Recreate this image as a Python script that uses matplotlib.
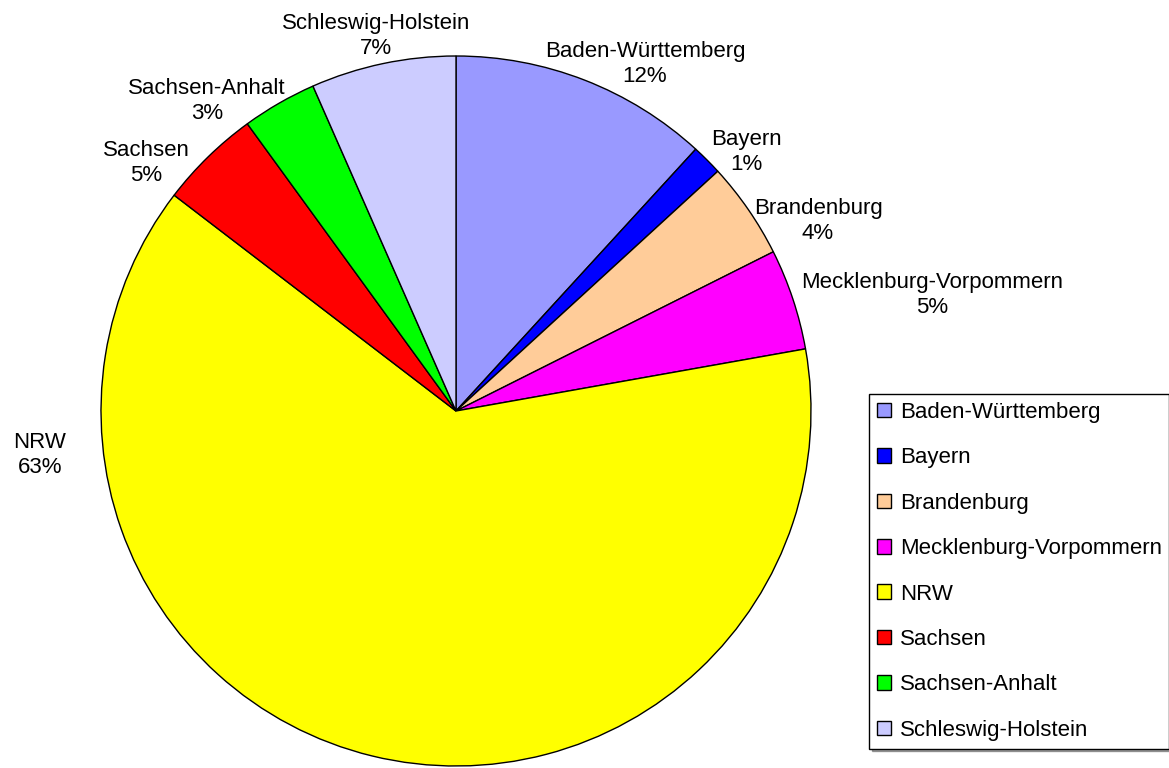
import matplotlib.pyplot as plt

plt.rcParams['font.family'] = ['Liberation Sans', 'DejaVu Sans']

states = ["Baden-Württemberg", "Bayern", "Brandenburg", "Mecklenburg-Vorpommern",
          "NRW", "Sachsen", "Sachsen-Anhalt", "Schleswig-Holstein"]
shares = [11.8, 1.4, 4.4, 4.6, 63.2, 4.6, 3.4, 6.6]
colors = ["#9999FF", "#0000FF", "#FFCC99", "#FF00FF",
          "#FFFF00", "#FF0000", "#00FF00", "#CCCCFF"]

W, H = 1169, 768
fig = plt.figure(figsize=(W / 100, H / 100), dpi=100)
ax = fig.add_axes([0, 0, 1, 1])

# pie in pixel coords (y up)
cx, cy, r = 456, H - 411, 355
wedges, _ = ax.pie(shares, colors=colors, startangle=90, counterclock=False,
                   center=(cx, cy), radius=r, frame=True,
                   wedgeprops=dict(edgecolor="black", linewidth=1))
ax.set_xlim(0, W)
ax.set_ylim(0, H)
ax.set_aspect("equal")
ax.axis("off")

# label centres (pixels, y down) as placed in the reference
label_pos = [(645, 64), (746, 152), (818, 221), (932, 295),
             (40, 455), (146, 163), (207, 101), (376, 36)]
total = sum(shares)
for name, val, (lx, ly) in zip(states, shares, label_pos):
    ax.text(lx, H - ly, f"{name}\n{round(val / total * 100):.0f}%",
            ha="center", va="center", fontsize=16, linespacing=1.3)

leg = ax.legend(wedges, states, loc="upper left",
                bbox_to_anchor=(869 / W, 1 - 394 / H), bbox_transform=fig.transFigure,
                fontsize=16, frameon=True, fancybox=False, shadow=True,
                edgecolor="black", framealpha=1, borderpad=0.35,
                labelspacing=1.1, handlelength=0.63, handleheight=0.63,
                handletextpad=0.4, borderaxespad=0)
leg.get_frame().set_linewidth(1)

fig.savefig("out.png", dpi=100)
